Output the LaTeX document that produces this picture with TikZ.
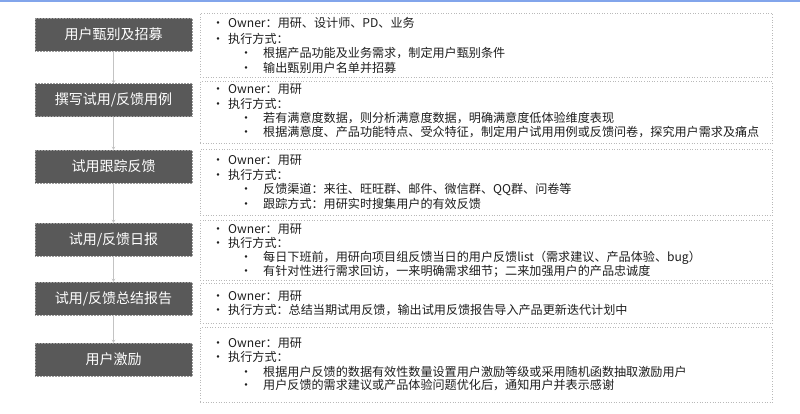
\documentclass[tikz,border=0pt]{standalone}
\usepackage{fontspec}
\setmainfont{Noto Sans CJK SC}
\usetikzlibrary{arrows.meta}
\definecolor{boxgray}{RGB}{89,89,89}
\definecolor{panelgray}{RGB}{185,185,185}
\definecolor{textgray}{RGB}{30,30,30}
\definecolor{conngray}{RGB}{195,195,195}
\definecolor{topblue}{RGB}{130,165,235}
\begin{document}
\begin{tikzpicture}[x=1pt,y=-1pt,
  stepbox/.style={fill=boxgray, draw=boxgray!60!white, densely dotted, line width=0.5pt, text=white,
    font=\fontsize{14}{14}\selectfont, minimum width=157pt, minimum height=33pt, inner sep=0pt},
  panel/.style={draw=panelgray, dotted, line width=0.6pt, anchor=north west, minimum width=572pt, inner sep=0pt},
  txt/.style={anchor=west, inner sep=0pt, text=textgray, font=\fontsize{12.1}{12.1}\selectfont},
  bul/.style={anchor=base, inner sep=0pt, text=textgray, font=\fontsize{12}{12}\selectfont},
  conn/.style={draw=conngray, line width=0.9pt, -{Stealth[length=3pt,width=3.5pt]}}
]
\useasboundingbox[fill=white] (0,0) rectangle (800,413);
\fill[topblue] (0,0) rectangle (800,1.8);
\coordinate (bxa) at (218,0);
\coordinate (bxb) at (246,0);

% left steps
\node[stepbox] (s1) at (113.5,34.5) {用户甄别及招募};
\node[stepbox] (s2) at (113.5,100) {撰写试用/反馈用例};
\node[stepbox] (s3) at (113.5,166.5) {试用跟踪反馈};
\node[stepbox] (s4) at (113.5,239.5) {试用/反馈日报};
\node[stepbox] (s5) at (113.5,298.5) {试用/反馈总结报告};
\node[stepbox] (s6) at (113.5,359.5) {用户激励};

\draw[conn] (s1.south) -- (s2.north);
\draw[conn] (s2.south) -- (s3.north);
\draw[conn] (s3.south) -- (s4.north);
\draw[conn] (s4.south) -- (s5.north);
\draw[conn] (s5.south) -- (s6.north);

% panels
\node[panel, minimum height=64pt] (p1) at (200,13) {};
\node[panel, minimum height=62pt] (p2) at (200,81) {};
\node[panel, minimum height=66pt] (p3) at (200,149) {};
\node[panel, minimum height=60pt] (p4) at (200,220) {};
\node[panel, minimum height=40pt] (p5) at (200,283) {};
\node[panel, minimum height=75pt] (p6) at (200,327) {};

% panel 1
\node[txt] (t11) at (228,23) {Owner：用研、设计师、PD、业务};
\node[txt] (t12) at (228,38.5) {执行方式：};
\node[txt] (t13) at (263,53) {根据产品功能及业务需求，制定用户甄别条件};
\node[txt] (t14) at (263,67.5) {输出甄别用户名单并招募};
\node[bul] (b11) at (t11.base -| bxa) {•};
\node[bul] (b12) at (t12.base -| bxa) {•};
\node[bul] (b13) at (t13.base -| bxb) {•};
\node[bul] (b14) at (t14.base -| bxb) {•};

% panel 2
\node[txt] (t21) at (228,89) {Owner：用研};
\node[txt] (t22) at (228,103.5) {执行方式：};
\node[txt] (t23) at (263,118) {若有满意度数据，则分析满意度数据，明确满意度低体验维度表现};
\node[txt] (t24) at (263,132.5) {根据满意度、产品功能特点、受众特征，制定用户试用用例或反馈问卷，探究用户需求及痛点};
\node[bul] (b21) at (t21.base -| bxa) {•};
\node[bul] (b22) at (t22.base -| bxa) {•};
\node[bul] (b23) at (t23.base -| bxb) {•};
\node[bul] (b24) at (t24.base -| bxb) {•};

% panel 3
\node[txt] (t31) at (228,160) {Owner：用研};
\node[txt] (t32) at (228,175) {执行方式：};
\node[txt] (t33) at (263,189) {反馈渠道：来往、旺旺群、邮件、微信群、QQ群、问卷等};
\node[txt] (t34) at (263,203.5) {跟踪方式：用研实时搜集用户的有效反馈};
\node[bul] (b31) at (t31.base -| bxa) {•};
\node[bul] (b32) at (t32.base -| bxa) {•};
\node[bul] (b33) at (t33.base -| bxb) {•};
\node[bul] (b34) at (t34.base -| bxb) {•};

% panel 4
\node[txt] (t41) at (228,229) {Owner：用研};
\node[txt] (t42) at (228,243) {执行方式：};
\node[txt] (t43) at (263,257.5) {每日下班前，用研向项目组反馈当日的用户反馈list（需求建议、产品体验、bug）};
\node[txt] (t44) at (263,271.5) {有针对性进行需求回访，一来明确需求细节；二来加强用户的产品忠诚度};
\node[bul] (b41) at (t41.base -| bxa) {•};
\node[bul] (b42) at (t42.base -| bxa) {•};
\node[bul] (b43) at (t43.base -| bxb) {•};
\node[bul] (b44) at (t44.base -| bxb) {•};

% panel 5
\node[txt] (t51) at (228,296) {Owner：用研};
\node[txt] (t52) at (228,310.5) {执行方式：总结当期试用反馈，输出试用反馈报告导入产品更新迭代计划中};
\node[bul] (b51) at (t51.base -| bxa) {•};
\node[bul] (b52) at (t52.base -| bxa) {•};

% panel 6
\node[txt] (t61) at (228,343) {Owner：用研};
\node[txt] (t62) at (228,357) {执行方式：};
\node[txt] (t63) at (263,371.5) {根据用户反馈的数据有效性数量设置用户激励等级或采用随机函数抽取激励用户};
\node[txt] (t64) at (263,385.5) {用户反馈的需求建议或产品体验问题优化后，通知用户并表示感谢};
\node[bul] (b61) at (t61.base -| bxa) {•};
\node[bul] (b62) at (t62.base -| bxa) {•};
\node[bul] (b63) at (t63.base -| bxb) {•};
\node[bul] (b64) at (t64.base -| bxb) {•};
\end{tikzpicture}
\end{document}
